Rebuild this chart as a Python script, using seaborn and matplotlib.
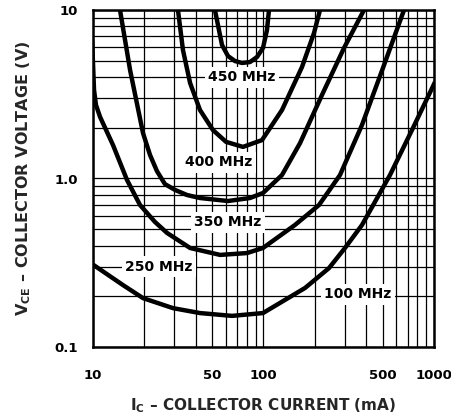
import numpy as np
import pandas as pd
import matplotlib
matplotlib.use("Agg")
import matplotlib.pyplot as plt
import seaborn as sns
from matplotlib.ticker import FixedLocator, FuncFormatter, NullLocator

# ---- data (IC in mA, VCE in V) ----
curve_names = ["450 MHz", "400 MHz", "350 MHz", "250 MHz", "100 MHz"]

ic_450 = [51.9, 54.8, 57.1, 61.9, 68.0, 74.8, 83.3, 91.6, 99.3, 104.8, 107.7]
vce_450 = [10.0, 7.61, 6.20, 5.33, 4.98, 4.85, 4.91, 5.26, 5.95, 7.61, 10.0]

ic_400 = [31.5, 33.7, 37.1, 42.4, 50.5, 60.3, 75.8, 98.0, 128.4, 168.2, 197.8, 214.5]
vce_400 = [10.0, 5.79, 3.69, 2.55, 1.94, 1.65, 1.54, 1.69, 2.55, 4.59, 7.30, 10.0]

ic_350 = [14.4, 16.5, 19.65, 21.6, 23.7, 26.4, 30.3, 35.6, 42.4, 61.9, 83.3, 99.3,
          128.4, 163.7, 220.3, 296.6, 388.6]
vce_350 = [10.0, 4.40, 1.86, 1.379, 1.108, 0.927, 0.855, 0.798, 0.766, 0.735, 0.766,
           0.820, 1.049, 1.62, 3.13, 5.95, 10.0]

ic_250 = [9.87, 10.0, 10.14, 10.41, 11.0, 13.1, 15.83, 18.87, 23.1, 27.2, 37.1, 55.6,
          80.0, 99.3, 153.0, 211.6, 281.0, 378.3, 502.0, 667.0]
vce_250 = [6.64, 4.85, 3.35, 2.73, 2.32, 1.58, 0.98, 0.696, 0.552, 0.475, 0.387, 0.352,
           0.361, 0.387, 0.530, 0.696, 1.049, 2.08, 4.53, 10.0]

ic_100 = [9.87, 15.0, 19.65, 29.5, 42.4, 65.4, 99.3, 175.2, 242.2, 300.6, 378.3, 552.0, 743.0, 1014.0]
vce_100 = [0.311, 0.233, 0.195, 0.170, 0.159, 0.153, 0.159, 0.224, 0.294, 0.387, 0.530, 1.049, 1.94, 3.74]

label_ic = [74.8, 54.8, 61.9, 24.4, 358.0]
label_vce = [4.0, 1.25, 0.55, 0.30, 0.205]

x_tick_values = [10, 50, 100, 500, 1000]
x_tick_labels = ["10", "50", "100", "500", "1000"]
y_tick_values = [0.1, 1.0, 10.0]
y_tick_labels = ["0.1", "1.0", "10"]

x_label = r"I$_{\mathrm{C}}$ – COLLECTOR CURRENT (mA)"
y_label = r"V$_{\mathrm{CE}}$ – COLLECTOR VOLTAGE (V)"

# ---- build long table ----
series = [(ic_450, vce_450), (ic_400, vce_400), (ic_350, vce_350),
          (ic_250, vce_250), (ic_100, vce_100)]
rows = []
for name, (xs, ys) in zip(curve_names, series):
    for i, (xv, yv) in enumerate(zip(xs, ys)):
        rows.append({"curve": name, "order": i, "ic": xv, "vce": yv})
df = pd.DataFrame(rows)

sns.set_theme(style="white")
plt.rcParams["font.family"] = ["DejaVu Sans"]
plt.rcParams["font.weight"] = "bold"
plt.rcParams["mathtext.fontset"] = "custom"
plt.rcParams["mathtext.rm"] = "DejaVu Sans:bold"
plt.rcParams["mathtext.it"] = "DejaVu Sans:bold"
plt.rcParams["mathtext.bf"] = "DejaVu Sans:bold"

fig = plt.figure(figsize=(4.52, 4.19), dpi=100)
ax = fig.add_axes([93 / 452, 1 - 347 / 419, (434 - 93) / 452, (347 - 10) / 419])

sns.lineplot(data=df, x="ic", y="vce", units="curve", estimator=None,
             sort=False, color="black", lw=3.2, ax=ax, legend=False,
             solid_capstyle="butt", solid_joinstyle="round")

ax.set_xscale("log")
ax.set_yscale("log")
ax.set_xlim(10, 1000)
ax.set_ylim(0.1, 10)

# full log grid
xgrid = [m * 10 ** e for e in (1, 2) for m in range(1, 10)] + [1000]
ygrid = [m * 10.0 ** e for e in (-1, 0) for m in range(1, 10)] + [10.0]
ax.xaxis.set_major_locator(FixedLocator(xgrid))
ax.yaxis.set_major_locator(FixedLocator(ygrid))
ax.xaxis.set_minor_locator(NullLocator())
ax.yaxis.set_minor_locator(NullLocator())


def fmt_x(v, pos):
    for tv, tl in zip(x_tick_values, x_tick_labels):
        if abs(v - tv) / tv < 1e-6:
            return tl
    return ""


def fmt_y(v, pos):
    for tv, tl in zip(y_tick_values, y_tick_labels):
        if abs(v - tv) / tv < 1e-6:
            return tl
    return ""


ax.xaxis.set_major_formatter(FuncFormatter(fmt_x))
ax.yaxis.set_major_formatter(FuncFormatter(fmt_y))
ax.tick_params(axis="both", length=0, labelsize=9.5, colors="black")
ax.tick_params(axis="x", pad=16)
ax.tick_params(axis="y", pad=11)
for lab in ax.get_xticklabels() + ax.get_yticklabels():
    lab.set_fontweight("bold")

ax.grid(True, which="major", color="black", lw=0.9)
ax.set_axisbelow(True)
for sp in ax.spines.values():
    sp.set_color("black")
    sp.set_linewidth(1.8)

for name, xv, yv in zip(curve_names, label_ic, label_vce):
    ax.text(xv, yv, name, ha="center", va="center", fontsize=10,
            fontweight="bold", color="black", zorder=5,
            bbox=dict(boxstyle="square,pad=0.25", fc="white", ec="none"))

ax.set_xlabel(x_label, fontsize=11, fontweight="bold", labelpad=10)
ax.set_ylabel(y_label, fontsize=11.5, fontweight="bold", labelpad=15)

fig.savefig("out.png", dpi=100)
